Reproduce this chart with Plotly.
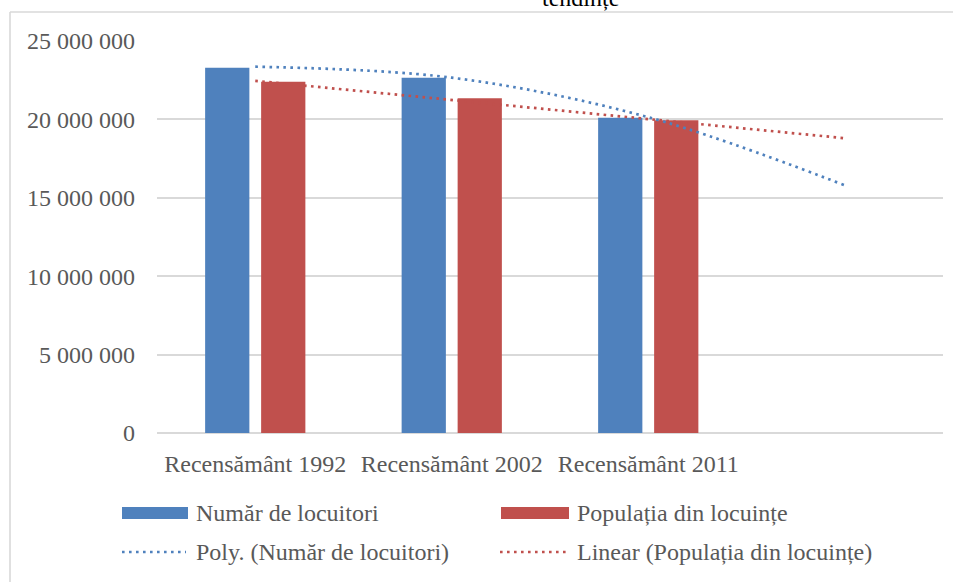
import plotly.graph_objects as go

# ---- data ----
categories = ["Recensământ 1992", "Recensământ 2002", "Recensământ 2011"]
locuitori = [23300000, 22660000, 20110000]
populatie = [22400000, 21350000, 19940000]
# trendline values (at category positions 1..4)
poly_trend = [23360000, 22660000, 20140000, 15800000]
linear_trend = [22460000, 21240000, 20020000, 18800000]
y_ticks = [0, 5000000, 10000000, 15000000, 20000000, 25000000]
y_tick_labels = ["0", "5 000 000", "10 000 000", "15 000 000", "20 000 000", "25 000 000"]

BLUE = "#4F81BD"
RED = "#C0504D"
GRID = "#D9D9D9"
TXT = "#595959"
FONT = "Liberation Serif, Times New Roman, DejaVu Serif, serif"

OFF = 0  # page body margin removed via post_script
W, H = 953, 582
L, R, T, B = 157, 10, 41, 149
PW, PH = W - L - R, H - T - B


def px_x(px):
    return (px - OFF - L) / PW


def px_y(py):
    return (H - B - (py - OFF)) / PH


xpos = list(range(len(categories)))
xtrend = list(range(len(poly_trend)))
DOT = "2.6px,4.4px"

fig = go.Figure()
fig.add_trace(go.Bar(x=xpos, y=locuitori, name="Număr de locuitori",
                     marker=dict(color=BLUE, line=dict(width=0)), showlegend=False))
fig.add_trace(go.Bar(x=xpos, y=populatie, name="Populația din locuințe",
                     marker=dict(color=RED, line=dict(width=0)), showlegend=False))
fig.add_trace(go.Scatter(x=xtrend, y=poly_trend, mode="lines", name="Poly. (Număr de locuitori)",
                         line=dict(color=BLUE, width=2.7, dash=DOT, shape="spline"),
                         showlegend=False))
fig.add_trace(go.Scatter(x=xtrend, y=linear_trend, mode="lines", name="Linear (Populația din locuințe)",
                         line=dict(color=RED, width=2.7, dash=DOT),
                         showlegend=False))

shapes = []
# chart border (top + left)
shapes.append(dict(type="line", xref="paper", yref="paper", x0=px_x(10), x1=px_x(960),
                   y0=px_y(12), y1=px_y(12), line=dict(color=GRID, width=1.6), layer="below"))
shapes.append(dict(type="line", xref="paper", yref="paper", x0=px_x(10), x1=px_x(10),
                   y0=px_y(12), y1=px_y(590), line=dict(color=GRID, width=1.6), layer="below"))
# legend swatches
shapes.append(dict(type="rect", xref="paper", yref="paper", x0=px_x(122), x1=px_x(188),
                   y0=px_y(507), y1=px_y(519), fillcolor=BLUE, line=dict(width=0)))
shapes.append(dict(type="rect", xref="paper", yref="paper", x0=px_x(501), x1=px_x(569),
                   y0=px_y(507), y1=px_y(519), fillcolor=RED, line=dict(width=0)))
shapes.append(dict(type="line", xref="paper", yref="paper", x0=px_x(122), x1=px_x(186),
                   y0=px_y(552), y1=px_y(552), line=dict(color=BLUE, width=2.7, dash=DOT)))
shapes.append(dict(type="line", xref="paper", yref="paper", x0=px_x(500), x1=px_x(567),
                   y0=px_y(552), y1=px_y(552), line=dict(color=RED, width=2.7, dash=DOT)))

annotations = []
legend_items = [
    ("Număr de locuitori", 194, 513),
    ("Populația din locuințe", 575, 513),
    ("Poly. (Număr de locuitori)", 194, 552),
    ("Linear (Populația din locuințe)", 575, 552),
]
for text, x, y in legend_items:
    annotations.append(dict(text=text, xref="paper", yref="paper", x=px_x(x), y=px_y(y),
                            xanchor="left", yanchor="middle", showarrow=False,
                            font=dict(family=FONT, size=24, color=TXT)))
# title fragment cut at top
annotations.append(dict(text="tendințe", xref="paper", yref="paper", x=px_x(580), y=px_y(-2),
                        xanchor="center", yanchor="middle", showarrow=False,
                        font=dict(family=FONT, size=24, color="#000000")))

fig.update_layout(
    width=W, height=H,
    margin=dict(l=L, r=R, t=T, b=B, pad=0),
    paper_bgcolor="white", plot_bgcolor="white",
    barmode="group", bargap=0.43, bargroupgap=0.21,
    shapes=shapes, annotations=annotations,
    showlegend=False, hovermode=False,
    xaxis=dict(range=[-0.5, 3.5], tickvals=xpos, ticktext=categories, showgrid=False,
               zeroline=False, showline=False, ticks="", ticklabelstandoff=14,
               tickfont=dict(family=FONT, size=24, color=TXT), fixedrange=True),
    yaxis=dict(range=[0, 25000000], tickvals=y_ticks, ticktext=y_tick_labels,
               showgrid=True, gridcolor=GRID, gridwidth=1.6, zeroline=True,
               zerolinecolor=GRID, zerolinewidth=1.6, showline=False, ticks="",
               ticklabelstandoff=21, tickfont=dict(family=FONT, size=24, color=TXT),
               fixedrange=True),
)

fig.write_html("out.html", config={"displayModeBar": False},
               post_script="document.body.style.margin='0';")
